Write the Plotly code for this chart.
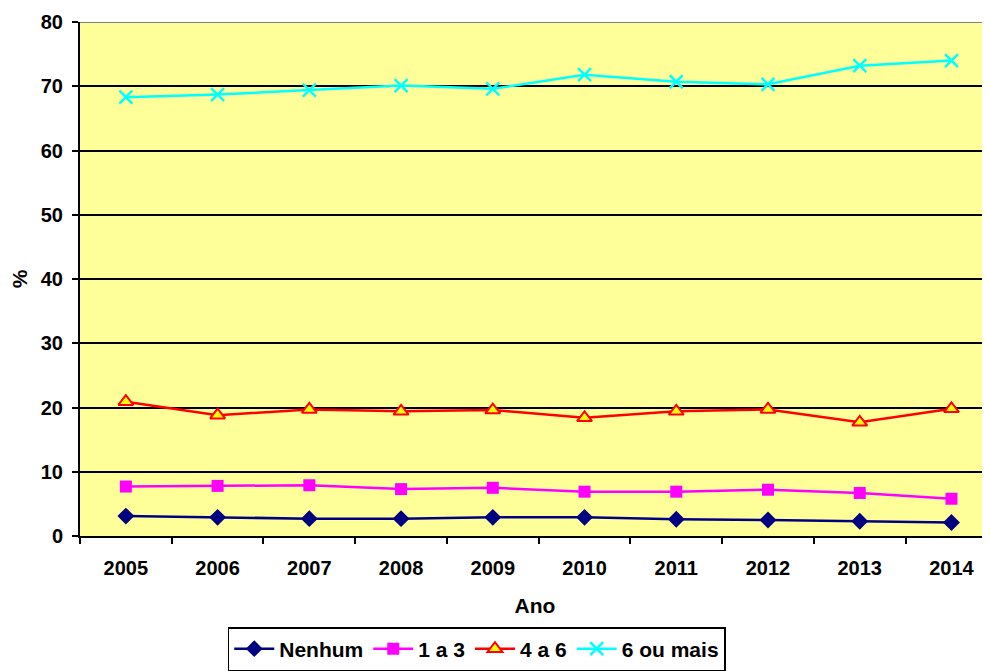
import plotly.graph_objects as go

anos = ["2005", "2006", "2007", "2008", "2009", "2010", "2011", "2012", "2013", "2014"]
nenhum = [3.1, 2.9, 2.7, 2.7, 2.9, 2.9, 2.6, 2.5, 2.3, 2.1]
um_a_tres = [7.7, 7.8, 7.9, 7.3, 7.5, 6.9, 6.9, 7.2, 6.7, 5.8]
quatro_a_seis = [20.9, 18.8, 19.7, 19.4, 19.6, 18.4, 19.4, 19.7, 17.7, 19.8]
seis_ou_mais = [68.3, 68.7, 69.4, 70.1, 69.6, 71.8, 70.7, 70.3, 73.2, 74.0]
y_ticks = [0, 10, 20, 30, 40, 50, 60, 70, 80]

FONT = "Liberation Sans, Arial, sans-serif"

fig = go.Figure()
fig.add_trace(go.Scatter(
    x=anos, y=nenhum, name="Nenhum", mode="lines+markers",
    line=dict(color="#000080", width=2.5),
    marker=dict(symbol="diamond", size=13, color="#000080")))
fig.add_trace(go.Scatter(
    x=anos, y=um_a_tres, name="1 a 3", mode="lines+markers",
    line=dict(color="#FF00FF", width=2.5),
    marker=dict(symbol="square", size=12, color="#FF00FF")))
fig.add_trace(go.Scatter(
    x=anos, y=quatro_a_seis, name="4 a 6", mode="lines+markers",
    line=dict(color="#FF0000", width=2.5),
    marker=dict(symbol="triangle-up", size=13, color="#FFFF00",
                line=dict(color="#FF0000", width=2))))
fig.add_trace(go.Scatter(
    x=anos, y=seis_ou_mais, name="6 ou mais", mode="lines+markers",
    line=dict(color="#00FFFF", width=2.5),
    marker=dict(symbol="x-thin", size=13, color="#00FFFF",
                line=dict(color="#00FFFF", width=2.5))))

fig.update_layout(
    width=982, height=663,
    margin=dict(l=72, r=0, t=14, b=133),
    paper_bgcolor="white",
    plot_bgcolor="#FFFF99",
    font=dict(family=FONT, size=20, color="black"),
    showlegend=True,
    legend=dict(orientation="h", x=0.436, xanchor="center", y=-0.178, yanchor="top",
                bordercolor="black", borderwidth=1.5, bgcolor="white",
                font=dict(family=FONT, size=21, color="black", weight="bold"),
                itemwidth=40, tracegroupgap=0),
    xaxis=dict(
        type="category", range=[-0.5, 9.42],
        tickson="boundaries", ticks="outside", ticklen=6, tickwidth=1.5, tickcolor="black",
        showline=True, linecolor="black", linewidth=2, showgrid=False,
        ticklabelstandoff=13,
        tickfont=dict(family=FONT, size=20, color="black", weight="bold"),
        title=dict(text="Ano", font=dict(family=FONT, size=21, color="black", weight="bold"),
                   standoff=20),
    ),
    yaxis=dict(
        range=[0, 80], tickvals=y_ticks, ticks="outside", ticklen=6, tickwidth=1.5,
        tickcolor="black", showline=True, linecolor="black", linewidth=2,
        showgrid=True, gridcolor="black", gridwidth=2, zeroline=False,
        ticklabelstandoff=5,
        tickfont=dict(family=FONT, size=20, color="black", weight="bold"),
        title=dict(text="%", font=dict(family=FONT, size=21, color="black", weight="bold"),
                   standoff=14),
    ),
)
# top border of plot area (gray line)
fig.add_shape(type="line", xref="paper", yref="y", x0=0, x1=1, y0=80, y1=80,
              line=dict(color="#808080", width=2))

fig.write_html("out.html")
